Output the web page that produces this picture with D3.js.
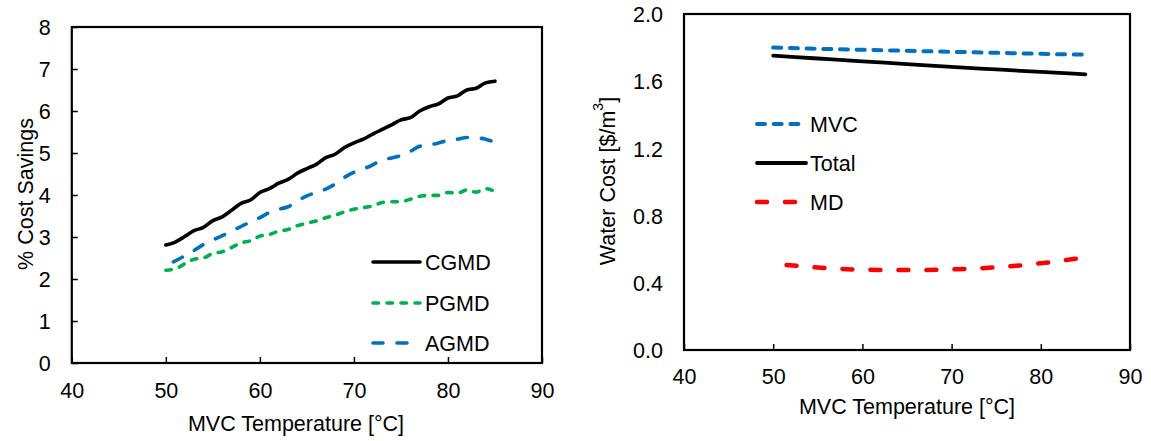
<!DOCTYPE html>
<html>
<head>
<meta charset="utf-8">
<script src="https://cdn.jsdelivr.net/npm/d3@7"></script>
<style>
  html, body { margin: 0; padding: 0; background: #fff; }
  svg { display: block; font-family: "Liberation Sans", Arial, sans-serif; }
</style>
</head>
<body>
<svg id="chart" width="1151" height="441"></svg>
<script>
// ---- Left panel: % cost savings vs MVC temperature ----
const savingsTemps = [50,51,52,53,54,55,56,57,58,59,60,61,62,63,64,65,66,67,68,69,70,71,72,73,74,75,76,77,78,79,80,81,82,83,84,85];
const cgmd = [2.81,2.88,3.01,3.15,3.23,3.39,3.48,3.64,3.80,3.88,4.06,4.15,4.28,4.37,4.52,4.63,4.73,4.89,4.97,5.13,5.24,5.33,5.45,5.56,5.67,5.79,5.84,6.00,6.10,6.17,6.31,6.36,6.50,6.54,6.67,6.71];
const pgmd = [2.21,2.24,2.36,2.47,2.50,2.61,2.65,2.75,2.86,2.91,3.02,3.06,3.14,3.18,3.27,3.33,3.38,3.46,3.52,3.60,3.66,3.70,3.74,3.82,3.84,3.84,3.90,3.97,3.99,3.99,4.06,4.04,4.12,4.07,4.15,4.08];
const agmdTemps = [50.8,52,53,54,55,56,57,58,59,60,61,62,63,64,65,66,67,68,69,70,71,72,73,74,75,76,77,78,79,80,81,82,83,84,85];
const agmd = [2.41,2.55,2.68,2.82,2.93,3.03,3.14,3.25,3.36,3.46,3.58,3.66,3.72,3.86,3.98,4.06,4.14,4.26,4.42,4.54,4.62,4.72,4.84,4.88,4.94,5.04,5.16,5.19,5.24,5.30,5.33,5.37,5.36,5.33,5.25];
const savingsYTicks = [0,1,2,3,4,5,6,7,8];

// ---- Right panel: water cost breakdown vs MVC temperature ----
const costTemps = [50,55,60,65,70,75,80,85];
const mvcCost = [1.800,1.793,1.787,1.781,1.775,1.769,1.763,1.758];
const totalCost = [1.752,1.735,1.718,1.702,1.685,1.670,1.655,1.641];
const mdTemps = [51.5,55,60,65,70,75,80,85];
const mdCost = [0.506,0.491,0.478,0.476,0.480,0.492,0.516,0.552];
const costYTicks = [0.0,0.4,0.8,1.2,1.6,2.0];

const xTicks = [40,50,60,70,80,90];

const FONT = 21.5;
const svg = d3.select("#chart");

function zip(xs, ys) { return xs.map((x, i) => ({x, y: ys[i]})); }

function panel(cfg) {
  const g = svg.append("g");
  const x = d3.scaleLinear().domain([40, 90]).range([cfg.left, cfg.right]);
  const y = d3.scaleLinear().domain(cfg.yDomain).range([cfg.bottom, cfg.top]);

  // series
  const line = d3.line().x(d => x(d.x)).y(d => y(d.y)).curve(d3.curveMonotoneX);
  cfg.series.forEach(s => {
    g.append("path")
      .datum(zip(s.xs, s.ys))
      .attr("d", line)
      .attr("fill", "none")
      .attr("stroke", s.color)
      .attr("stroke-width", s.width)
      .attr("stroke-linecap", "round")
      .attr("stroke-linejoin", "round")
      .attr("stroke-dasharray", s.dash || null);
  });

  // frame
  g.append("rect")
    .attr("x", cfg.left).attr("y", cfg.top)
    .attr("width", cfg.right - cfg.left).attr("height", cfg.bottom - cfg.top)
    .attr("fill", "none").attr("stroke", "#000").attr("stroke-width", 2.2);

  // x axis (ticks point inward)
  const xAxis = d3.axisBottom(x).tickValues(xTicks).tickSizeInner(-6).tickSizeOuter(0).tickPadding(0);
  const xa = g.append("g").attr("transform", `translate(0,${cfg.bottom})`).call(xAxis);
  xa.select(".domain").remove();
  xa.selectAll(".tick line").attr("stroke", "#000").attr("stroke-width", 1.5);
  xa.selectAll(".tick text")
    .attr("y", cfg.xLabelDy).attr("dy", null)
    .attr("font-size", FONT).attr("font-family", "Liberation Sans, Arial, sans-serif").attr("fill", "#000");

  // y axis
  const yAxis = d3.axisLeft(y).tickValues(cfg.yTicks).tickFormat(cfg.yFormat)
    .tickSizeInner(cfg.yTickInside ? -6 : 0).tickSizeOuter(0).tickPadding(0);
  const ya = g.append("g").attr("transform", `translate(${cfg.left},0)`).call(yAxis);
  ya.select(".domain").remove();
  ya.selectAll(".tick line").attr("stroke", "#000").attr("stroke-width", 1.5);
  ya.selectAll(".tick text")
    .attr("x", -21).attr("dy", "0.36em")
    .attr("font-size", FONT).attr("font-family", "Liberation Sans, Arial, sans-serif").attr("fill", "#000");

  // axis titles
  g.append("text")
    .attr("x", cfg.xTitleX).attr("y", cfg.xTitleY)
    .attr("text-anchor", "middle").attr("font-size", FONT).attr("fill", "#000")
    .text("MVC Temperature [°C]");

  const yt = g.append("text")
    .attr("transform", `translate(${cfg.yTitleX},${cfg.yTitleY}) rotate(-90)`)
    .attr("text-anchor", "middle").attr("dy", "0.36em")
    .attr("font-size", FONT).attr("fill", "#000");
  cfg.yTitle(yt);

  // legend
  cfg.series.forEach((s, i) => {
    const ly = cfg.legend.y[i];
    g.append("line")
      .attr("x1", cfg.legend.x1).attr("x2", cfg.legend.x2[i])
      .attr("y1", ly).attr("y2", ly)
      .attr("stroke", s.color).attr("stroke-width", s.width)
      .attr("stroke-linecap", "round")
      .attr("stroke-dasharray", s.dash || null);
    g.append("text")
      .attr("x", cfg.legend.tx).attr("y", ly).attr("dy", "0.36em")
      .attr("font-size", FONT).attr("fill", "#000")
      .text(s.name);
  });
}

panel({
  left: 71.8, right: 542, top: 27, bottom: 363,
  yDomain: [0, 8], yTicks: savingsYTicks, yFormat: d3.format("d"), yTickInside: true,
  xLabelDy: 34.5,
  xTitleX: 296, xTitleY: 431,
  yTitleX: 25, yTitleY: 194,
  yTitle: t => t.text("% Cost Savings"),
  series: [
    {name: "CGMD", xs: savingsTemps, ys: cgmd, color: "#000000", width: 3.6},
    {name: "PGMD", xs: savingsTemps, ys: pgmd, color: "#00B050", width: 3.6, dash: "5.5,8.5"},
    {name: "AGMD", xs: agmdTemps, ys: agmd, color: "#0070C0", width: 3.6, dash: "10,14"}
  ],
  legend: {x1: 373, x2: [420, 420, 420], tx: 425, y: [262, 303, 343]}
});

panel({
  left: 684, right: 1130, top: 14, bottom: 350,
  yDomain: [0, 2], yTicks: costYTicks, yFormat: d3.format(".1f"), yTickInside: false,
  xLabelDy: 34,
  xTitleX: 907, xTitleY: 414,
  yTitleX: 607, yTitleY: 181,
  yTitle: t => {
    t.append("tspan").text("Water Cost [$/m");
    t.append("tspan").attr("font-size", FONT * 0.65).attr("dy", "-0.85em").text("3");
    t.append("tspan").attr("dy", "0.55em").text("]");
  },
  series: [
    {name: "MVC", xs: costTemps, ys: mvcCost, color: "#0070C0", width: 4, dash: "8,8.7"},
    {name: "Total", xs: costTemps, ys: totalCost, color: "#000000", width: 3.8},
    {name: "MD", xs: mdTemps, ys: mdCost, color: "#FF0000", width: 4.5, dash: "10,18"}
  ],
  legend: {x1: 757, x2: [801, 806, 801], tx: 810, y: [124, 163, 202]}
});
</script>
</body>
</html>
